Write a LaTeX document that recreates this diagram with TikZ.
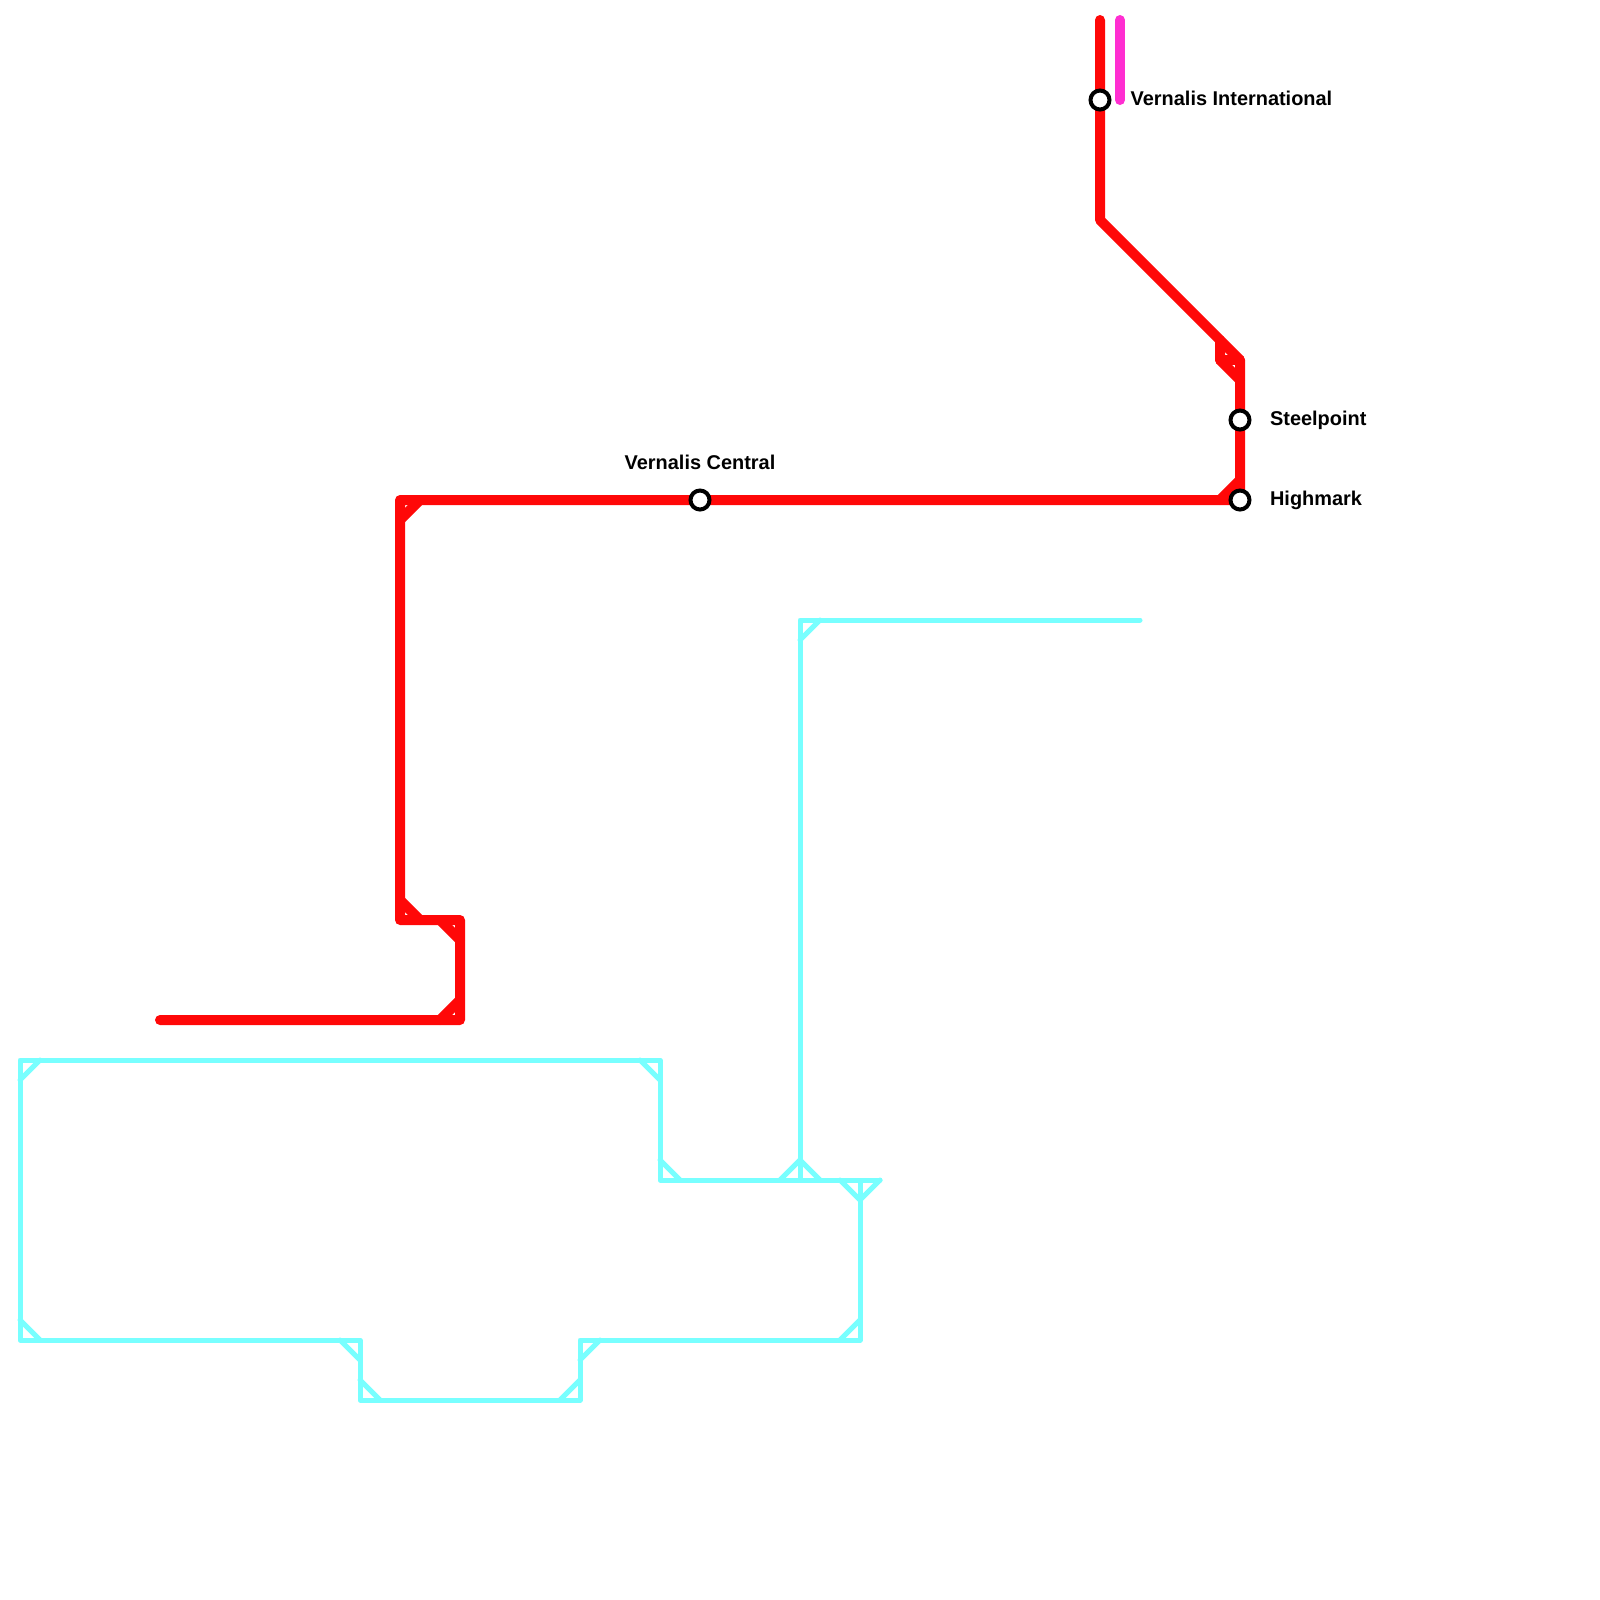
\documentclass[tikz,border=0pt]{standalone}
\usepackage{fontspec}
\setmainfont{Liberation Sans}
\usepackage{tikz}
\usetikzlibrary{positioning}
\definecolor{linered}{rgb}{1.0,0.03,0.03}
\definecolor{linecyan}{rgb}{0.47,1.0,1.0}
\definecolor{linepink}{rgb}{1.0,0.18,0.82}

\begin{document}
\begin{tikzpicture}[
    x=0.2cm, y=-0.2cm,
    redline/.style={color=linered, line width=1mm, line cap=round, line join=round},
    pinkline/.style={redline, color=linepink},
    cyanline/.style={color=linecyan, line width=0.5mm, line cap=round, line join=round},
    station/.style={circle, draw=black, fill=white, line width=0.4mm, minimum size=1.9mm, inner sep=0pt},
    stationname/.style={font=\fontsize{5.67pt}{6pt}\selectfont\bfseries, text=black, inner sep=0pt}
]
\useasboundingbox (0,0) rectangle (80,80);

\coordinate (RedTop) at (55,1);
\coordinate (RedEnd) at (8,51);
\coordinate (PinkTop) at (56,1);
\coordinate (PinkEnd) at (56,5);
\coordinate (CyanEnd) at (57,31);
\coordinate (CyanCorner) at (40,31);
\coordinate (International) at (55,5);
\coordinate (Steelpoint) at (62,21);
\coordinate (Highmark) at (62,25);
\coordinate (Central) at (35,25);

% red line
\draw[redline] (RedTop) -- (International) -- (55,11) -- (62,18) -- (Steelpoint) -- (Highmark)
    -- (Central) -- (20,25) -- (20,46) -- (23,46) -- (23,51) -- (RedEnd);
\draw[redline] (61,17) -- (61,18) -- (62,19);
\draw[redline] (61,18) -- (62,18);
\draw[redline] (61,25) -- (62,24);
\draw[redline] (20,26) -- (21,25);
\draw[redline] (20,45) -- (21,46);
\draw[redline] (22,46) -- (23,47);
\draw[redline] (23,50) -- (22,51);

% pink line
\draw[pinkline] (PinkTop) -- (PinkEnd);

% cyan line
\draw[cyanline] (CyanEnd) -- (CyanCorner) -- (40,59) -- (33,59) -- (33,53) -- (1,53) -- (1,67)
    -- (18,67) -- (18,70) -- (29,70) -- (29,67) -- (43,67) -- (43,59) -- (40,59);
\draw[cyanline] (43,59) -- (44,59);
\draw[cyanline] (40,32) -- (41,31);
\draw[cyanline] (1,54) -- (2,53);
\draw[cyanline] (32,53) -- (33,54);
\draw[cyanline] (33,58) -- (34,59);
\draw[cyanline] (39,59) -- (40,58) -- (41,59);
\draw[cyanline] (42,59) -- (43,60) -- (44,59);
\draw[cyanline] (43,66) -- (42,67);
\draw[cyanline] (1,66) -- (2,67);
\draw[cyanline] (17,67) -- (18,68);
\draw[cyanline] (18,69) -- (19,70);
\draw[cyanline] (29,69) -- (28,70);
\draw[cyanline] (29,68) -- (30,67);

% stations
\node[station] (StInternational) at (International) {};
\node[station] (StSteelpoint) at (Steelpoint) {};
\node[station] (StHighmark) at (Highmark) {};
\node[station] (StCentral) at (Central) {};

\node[stationname, anchor=base west] (LblInternational) at (56.5,5.27) {Vernalis International};
\node[stationname, anchor=base west] (LblSteelpoint) at (63.47,21.27) {Steelpoint};
\node[stationname, anchor=base west] (LblHighmark) at (63.47,25.27) {Highmark};
\node[stationname, anchor=base] (LblCentral) at (35,23.47) {Vernalis Central};
\end{tikzpicture}
\end{document}
